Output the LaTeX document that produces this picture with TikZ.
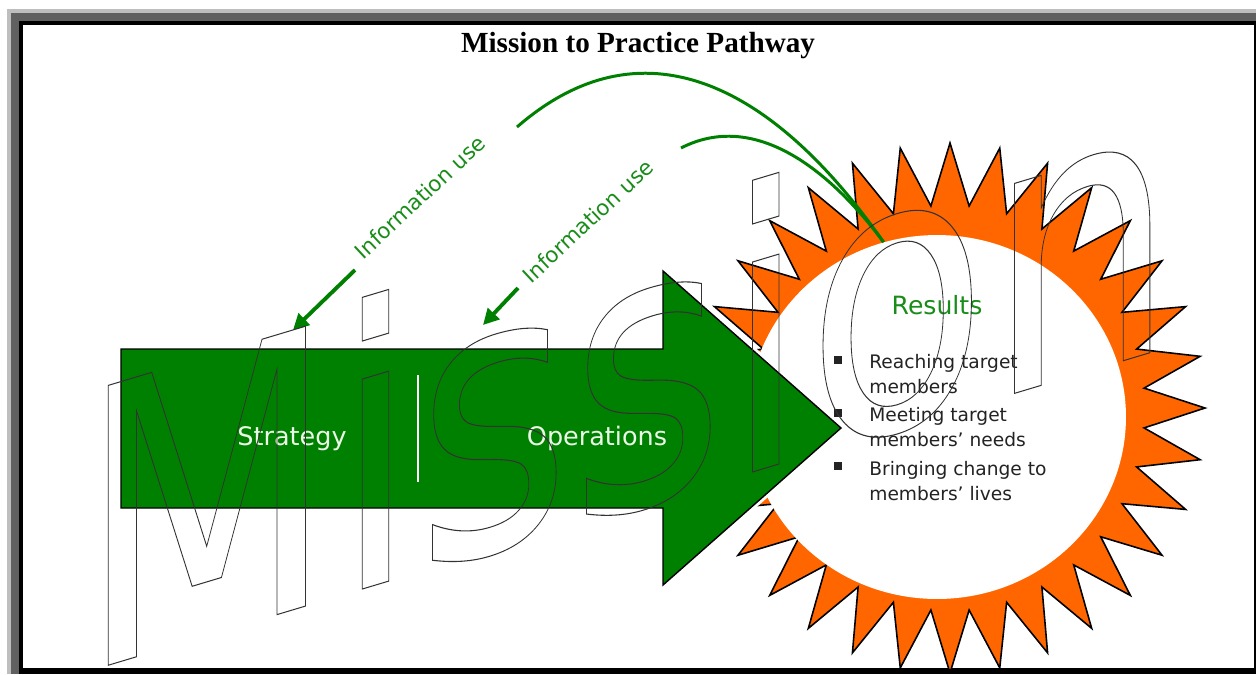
\documentclass[tikz,border=0pt]{standalone}
\usepackage{fontspec}
\setmainfont{Liberation Serif}
\newfontfamily\diagfont{DejaVu Sans}
\usepackage{xcolor}
\usetikzlibrary{arrows.meta,positioning,calc}
\usetikzlibrary{shapes.geometric}

\definecolor{burstorange}{RGB}{255,102,0}
\definecolor{arrowgreen}{RGB}{0,128,0}
\definecolor{labelgreen}{RGB}{25,140,25}
\definecolor{framegray}{RGB}{96,96,96}
\definecolor{framelight}{RGB}{190,190,190}
\definecolor{textgray}{RGB}{35,35,35}
\definecolor{paleword}{RGB}{235,250,230}

% hollow letters, stroked only
\newcommand{\hollowword}[1]{\special{pdf:literal direct 1 Tr 0.6 w 0.2 0.2 0.2 RG}#1\special{pdf:literal direct 0 Tr}}

\begin{document}
\begin{tikzpicture}[x=0.02cm,y=-0.02cm,
	burst/.style={fill=burstorange,draw=black,line width=0.9pt,line join=miter},
	arrowbody/.style={fill=arrowgreen,draw=black,line width=0.8pt,preaction={draw=white,line width=4pt}},
	resultcircle/.style={ellipse,fill=white,minimum width=7.56cm,minimum height=7.28cm,inner sep=0},
	bigword/.style={font=\diagfont\fontsize{14.5}{17}\selectfont,text=paleword,anchor=base,inner sep=0},
	infoline/.style={draw=arrowgreen,line width=1.7pt},
	infoarrow/.style={draw=arrowgreen,line width=2.2pt,-{Triangle[length=9pt,width=9pt]}},
	infolabel/.style={font=\diagfont\fontsize{12.2}{14}\selectfont,text=labelgreen,rotate=43,inner sep=0},
	bulletsq/.style={fill=textgray,minimum size=4.4pt,inner sep=0},
	itemtext/.style={font=\diagfont\fontsize{10.6}{13.9}\selectfont,text=textgray,align=left,anchor=base west,inner sep=0},
	missiontext/.style={anchor=base west,inner sep=0,yslant=0.3,xscale=0.77,transform shape,font=\diagfont\fontsize{218.5}{220}\selectfont}]
	\useasboundingbox (0,0) rectangle (1256,674);
	% frame
	\fill[framelight] (7,9) rectangle (1256,674);
	\fill[framegray] (11,13) rectangle (1256,674);
	\fill[black] (19,21) rectangle (1256,674);
	\fill[white] (23,25) rectangle (1254,668);
	\node[font=\bfseries\fontsize{16.6}{19}\selectfont,anchor=base] (title) at (638,52) {Mission to Practice Pathway};
	% burst and results
	\begin{scope}
	\clip (23,25) rectangle (1254,668);
	\draw[burst] plot[domain=0:63,samples=64] ({950+ifthenelse(mod(round(\x),2)==0,255,195)*cos(\x*5.625)},{408+ifthenelse(mod(round(\x),2)==0,265,203)*sin(\x*5.625)}) -- cycle;
	\end{scope}
	\node[resultcircle] (res) at (937,417) {};
	\node[font=\diagfont\fontsize{14.3}{17}\selectfont,text=labelgreen,anchor=base] (results) at (937,314) {Results};
	\node[bulletsq] (b1) at (838,360) {};
	\node[bulletsq] (b2) at (838,413) {};
	\node[bulletsq] (b3) at (838,466) {};
	\node[itemtext] (item1) at (869,393) {Reaching target\\members};
	\node[itemtext] (item2) at (869,446) {Meeting target\\members’ needs};
	\node[itemtext] (item3) at (869,500) {Bringing change to\\members’ lives};
	% big arrow
	\draw[arrowbody] (121,349) -- (663,349) -- (663,271) -- (841,428) -- (663,585) -- (663,508) -- (121,508) -- cycle;
	\draw[white,line width=1.2pt] (418,375) -- (418,482);
	\node[bigword] (strategy) at (292,445) {Strategy};
	\node[bigword] (operations) at (597,445) {Operations};
	% information use
	\coordinate (c1) at (517,127);
	\coordinate (c2) at (681,148);
	\coordinate (a1s) at (355,270);
	\coordinate (a1e) at (293,330);
	\coordinate (a2s) at (518,288);
	\coordinate (a2e) at (483,325);
	\draw[infoline] (res.107) .. controls (770,80) and (640,20) .. (c1);
	\draw[infoline] (res.107) .. controls (830,170) and (755,110) .. (c2);
	\node[infolabel] (info1) at (420,197) {Information use};
	\node[infolabel] (info2) at (588,221) {Information use};
	\draw[infoarrow] (a1s) -- (a1e);
	\draw[infoarrow] (a2s) -- (a2e);
	% mission outline
	\begin{scope}
	\clip (23,25) rectangle (1254,668);
	\node[missiontext] (mission) at (79,674) {\hollowword{Mission}};
	\end{scope}
\end{tikzpicture}
\end{document}
